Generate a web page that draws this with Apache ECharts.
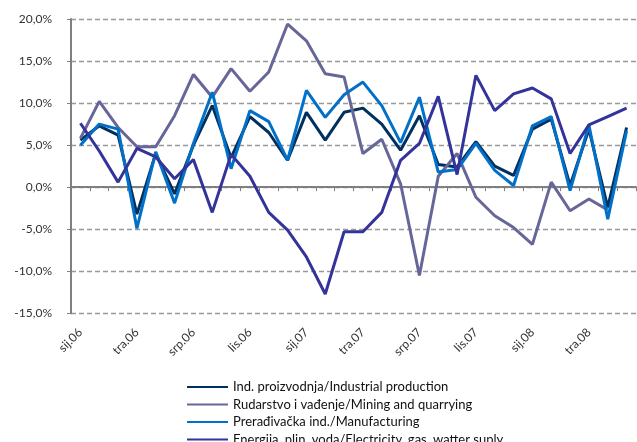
<!DOCTYPE html>
<html>
<head>
<meta charset="utf-8">
<script src="https://cdn.jsdelivr.net/npm/echarts@6/dist/echarts.min.js"></script>
<style>html,body{margin:0;padding:0;background:#fff}#c{width:637px;height:442px}</style>
</head>
<body>
<div id="c"></div>
<script>
const categories = ['sij.06','velj.06','ožu.06','tra.06','svi.06','lip.06','srp.06','kol.06','ruj.06','lis.06','stu.06','pro.06',
  'sij.07','velj.07','ožu.07','tra.07','svi.07','lip.07','srp.07','kol.07','ruj.07','lis.07','stu.07','pro.07',
  'sij.08','velj.08','ožu.08','tra.08','svi.08','lip.08'];
const industrial = [5.6,7.3,6.2,-3.2,4.0,-0.8,5.0,9.7,3.5,8.4,6.5,3.2,8.9,5.6,8.9,9.4,7.5,4.4,8.5,2.7,2.4,5.4,2.5,1.4,6.9,8.1,0.2,6.9,-2.4,7.1];
const mining = [5.8,10.2,7.1,4.8,4.8,8.5,13.4,10.7,14.1,11.4,13.7,19.4,17.4,13.5,13.1,4.0,5.7,0.4,-10.5,1.3,4.0,-1.2,-3.4,-4.8,-6.8,0.6,-2.8,-1.4,-2.7,null];
const manufacturing = [5.0,7.5,6.9,-4.9,4.2,-1.9,5.2,11.3,2.2,9.1,7.8,3.2,11.5,8.3,11.0,12.5,9.7,5.3,10.7,1.8,2.1,5.2,2.0,0.2,7.3,8.4,-0.4,7.4,-3.8,6.7];
const energy = [7.6,4.3,0.6,4.6,3.6,1.0,3.3,-3.0,3.9,1.3,-3.0,-5.1,-8.3,-12.7,-5.3,-5.3,-3.0,3.2,5.2,10.8,1.5,13.3,9.1,11.1,11.8,10.5,4.0,7.4,8.4,9.4];
const seriesNames = ['Ind. proizvodnja/Industrial production','Rudarstvo i vađenje/Mining and quarrying','Prerađivačka ind./Manufacturing','Energija, plin, voda/Electricity, gas, watter suply'];
const colors = ['#00305E','#666699','#0070C8','#333399'];

const font = 'Lato, "Open Sans", sans-serif';
const chart = echarts.init(document.getElementById('c'), null, {renderer:'canvas'});
const data = [industrial, mining, manufacturing, energy];
chart.setOption({
  animation: false,
  color: colors,
  grid: {left: 71, right: 1, top: 19, bottom: 128.7, containLabel: false},
  xAxis: [
    {type:'category', data: categories, position:'bottom', boundaryGap:true,
     axisLine:{show:false, onZero:false}, axisTick:{show:false}, splitLine:{show:false},
     axisLabel:{interval:2, rotate:45, margin:17, fontFamily:font, fontSize:12, color:'#333'}},
    {type:'category', data: categories, position:'bottom', boundaryGap:true,
     axisLine:{show:true, onZero:true, onZeroAxisIndex:0, lineStyle:{color:'#808080', width:2}},
     axisTick:{show:true, interval:0, length:4, lineStyle:{color:'#808080', width:1}},
     axisLabel:{show:false}, splitLine:{show:false}}
  ],
  yAxis: {type:'value', min:-15, max:20, interval:5,
    axisLine:{show:true, onZero:false, lineStyle:{color:'#808080', width:2}},
    axisTick:{show:true, length:4, lineStyle:{color:'#808080'}},
    axisLabel:{margin:19, fontFamily:font, fontSize:12, color:'#333',
      formatter: v => v.toFixed(1).replace('.', ',') + '%'},
    splitLine:{show:true, lineStyle:{color:'#999', width:1.3, type:[5,3]}}
  },
  legend: {orient:'vertical', left:182, top:375, height:120, icon:'rect', itemWidth:41, itemHeight:2,
    itemGap:3.5, data: seriesNames,
    textStyle:{fontFamily:font, fontSize:13, color:'#111', lineHeight:14}},
  series: data.map((d, i) => ({
    name: seriesNames[i], type:'line', data: d, xAxisIndex:0, symbol:'none',
    lineStyle:{width:3, color: colors[i]}, itemStyle:{color: colors[i]},
    connectNulls:false
  }))
});
</script>
</body>
</html>
